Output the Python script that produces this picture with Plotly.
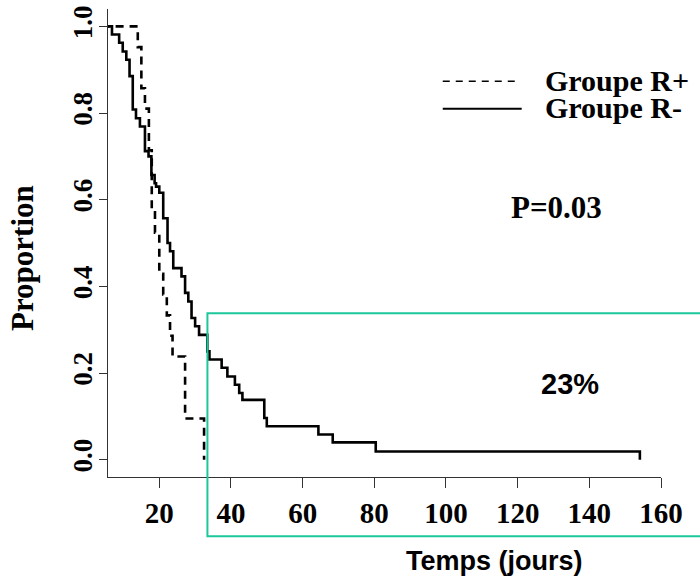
import plotly.graph_objects as go

# ---- data ----
t_minus = [0, 6.8, 8.8, 9.8, 10.8, 11.7, 12.6, 13.5, 14.6, 16.0, 17.0, 17.8, 18.7, 19.1,
           20.0, 21.1, 22.3, 23.0, 23.9, 26.2, 27.2, 28.1, 29.0, 30.0, 31.1, 33.4, 34.0,
           37.4, 39.0, 41.1, 42.3, 43.2, 49.3, 50.0, 64.4, 68.4, 80.4, 154.1]
s_minus = [1.0, 0.981, 0.962, 0.942, 0.923, 0.885, 0.808, 0.788, 0.769, 0.712, 0.700, 0.657,
           0.638, 0.630, 0.616, 0.557, 0.500, 0.481, 0.442, 0.423, 0.385, 0.365, 0.327, 0.308,
           0.288, 0.250, 0.231, 0.212, 0.192, 0.173, 0.154, 0.138, 0.096, 0.077, 0.058, 0.040,
           0.019, 0.0]

t_plus = [0, 14.0, 15.0, 16.0, 17.1, 17.9, 18.8, 20.0, 21.1, 22.1, 23.0, 23.7, 27.2, 32.5]
s_plus = [1.0, 0.952, 0.857, 0.810, 0.714, 0.571, 0.524, 0.429, 0.381, 0.333, 0.286, 0.238,
          0.095, 0.0]

x_ticks = [20, 40, 60, 80, 100, 120, 140, 160]
y_ticks = [0.0, 0.2, 0.4, 0.6, 0.8, 1.0]
y_tick_labels = ["0.0", "0.2", "0.4", "0.6", "0.8", "1.0"]

legend_labels = ["Groupe R+", "Groupe R-"]
p_text = "P=0.03"
pct_text = "23%"
x_title = "Temps (jours)"
y_title = "Proportion"

# ---- layout geometry (page pixels) ----
W, H = 700, 585
PLOT_L, PLOT_R, PLOT_T, PLOT_B = 108, 661.4, 8.6, 477.4
L, T, R, B = PLOT_L, PLOT_T, W - PLOT_R, H - PLOT_B
PW, PH = PLOT_R - PLOT_L, PLOT_B - PLOT_T


def px(xp):
    return (xp - PLOT_L) / PW


def py(yp):
    return (PLOT_B - yp) / PH


SERIF = "Liberation Serif"
SANS = "Liberation Sans"
GREEN = "#1cc79a"

fig = go.Figure()
fig.add_trace(go.Scatter(x=t_plus, y=s_plus, mode="lines", line_shape="hv",
                         line=dict(color="black", width=2.6, dash="8px,6px"),
                         name=legend_labels[0], showlegend=False))
fig.add_trace(go.Scatter(x=t_minus, y=s_minus, mode="lines", line_shape="hv",
                         line=dict(color="black", width=2.6),
                         name=legend_labels[1], showlegend=False))

fig.update_layout(
    template="none",
    width=W, height=H,
    margin=dict(l=L, r=R, t=T, b=B, pad=0, autoexpand=False),
    plot_bgcolor="white", paper_bgcolor="white",
    xaxis=dict(range=[5.69, 160.0], tickvals=x_ticks, ticks="outside", ticklen=10,
               tickwidth=1.3, tickcolor="#333", showline=True, linecolor="#333",
               linewidth=1.3, showgrid=False, zeroline=False, automargin=False,
               tickfont=dict(family=SERIF, size=29, color="black", weight="bold"),
               ticklabelstandoff=0, ticklabeloverflow="allow"),
    yaxis=dict(range=[-0.04, 1.04], tickvals=y_ticks, ticktext=y_tick_labels,
               ticks="outside", ticklen=8, tickwidth=1.3, tickcolor="#333",
               showline=True, linecolor="#333", linewidth=1.3, showgrid=False,
               zeroline=False, tickangle=-90, automargin=False,
               tickfont=dict(family=SERIF, size=27, color="black", weight="bold"),
               ticklabelstandoff=-4, ticklabeloverflow="allow"),
)

# green highlight box (extends past the right edge of the picture)
fig.add_shape(type="rect", xref="paper", yref="paper",
              x0=px(207.5), x1=px(706), y0=py(536.7), y1=py(313.3),
              line=dict(color=GREEN, width=2), fillcolor="rgba(0,0,0,0)", layer="above")

# legend lines
fig.add_shape(type="line", xref="paper", yref="paper", x0=px(443), x1=px(521),
              y0=py(81), y1=py(81), line=dict(color="black", width=1.6, dash="7px,6px"))
fig.add_shape(type="line", xref="paper", yref="paper", x0=px(443), x1=px(522),
              y0=py(108.5), y1=py(108.5), line=dict(color="black", width=2.2))

ann = [
    dict(text=legend_labels[0], x=px(543), y=py(80), xanchor="left", yanchor="middle",
         font=dict(family=SERIF, size=30, color="black", weight="bold")),
    dict(text=legend_labels[1], x=px(543), y=py(107), xanchor="left", yanchor="middle",
         font=dict(family=SERIF, size=30, color="black", weight="bold")),
    dict(text=p_text, x=px(556.5), y=py(207.5), xanchor="center", yanchor="middle",
         font=dict(family=SERIF, size=31, color="black", weight="bold")),
    dict(text=pct_text, x=px(570), y=py(384), xanchor="center", yanchor="middle",
         font=dict(family=SANS, size=29, color="black", weight="bold")),
    dict(text=x_title, x=px(495), y=py(562), xanchor="center", yanchor="middle",
         font=dict(family=SANS, size=27, color="black", weight="bold")),
    dict(text=y_title, x=px(23), y=py(258), xanchor="center", yanchor="middle",
         textangle=-90, font=dict(family=SERIF, size=31, color="black", weight="bold")),
]
for a in ann:
    fig.add_annotation(xref="paper", yref="paper", showarrow=False, **a)

# the page body has a default 8px margin; remove it so the figure fills the window
fig.write_html("out.html", config={"displayModeBar": False},
               post_script="document.body.style.margin='0px';")
